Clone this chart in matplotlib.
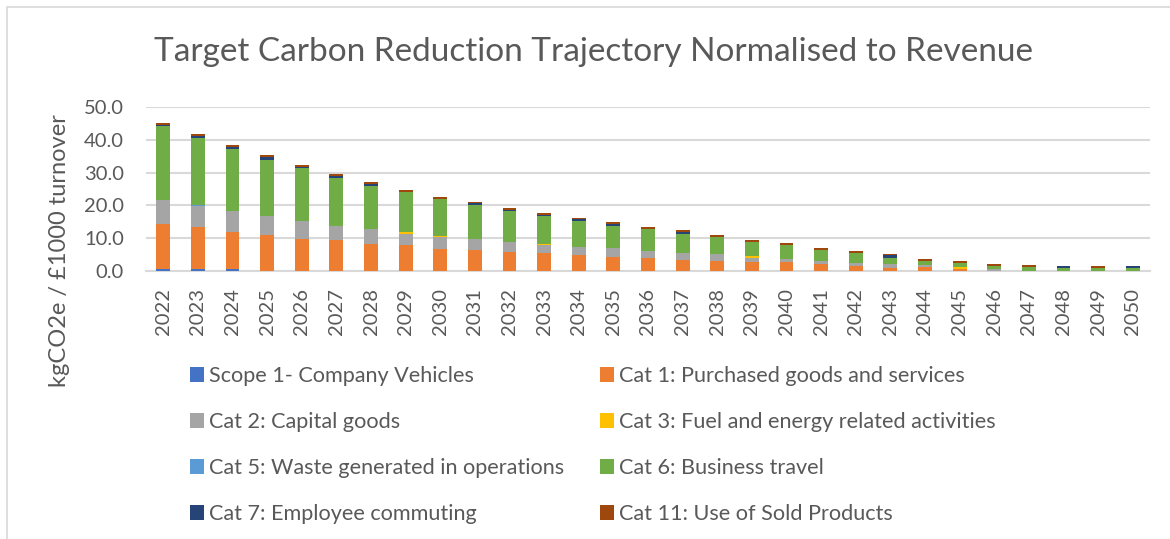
import numpy as np
import matplotlib.pyplot as plt
from matplotlib.patches import Rectangle, Patch

plt.rcParams['font.family'] = ['Lato', 'DejaVu Sans']

# Data (kgCO2e per £1000 turnover)
years = [str(y) for y in range(2022, 2051)]
scope1 = [0.6, 0.5, 0.5, 0, 0, 0, 0, 0, 0, 0, 0, 0, 0, 0, 0, 0, 0, 0, 0, 0, 0, 0, 0, 0, 0, 0, 0, 0, 0]
cat1 = [13.6, 12.8, 11.3, 10.9, 9.8, 9.3, 8.3, 7.8, 6.8, 6.5, 5.9, 5.4, 5.0, 4.4, 3.9, 3.4, 3.0, 2.6, 2.6, 2.0,
        1.6, 1.0, 1.1, 0.6, 0.1, 0, 0, 0, 0]
cat2 = [7.4, 6.5, 6.5, 5.9, 5.4, 4.3, 4.4, 3.6, 3.5, 3.2, 2.9, 2.4, 2.3, 2.5, 2.1, 2.0, 2.1, 1.4, 1.0, 1.0,
        0.9, 1.0, 0.6, 0.1, 0.6, 0.1, 0, 0, 0]
cat3 = [0, 0, 0, 0, 0, 0, 0, 0.5, 0.5, 0, 0, 0.5, 0, 0, 0, 0, 0, 0.5, 0, 0, 0, 0, 0, 0.5, 0, 0, 0, 0, 0]
cat5 = [0.1, 0.3, 0.1, 0, 0, 0, 0, 0, 0, 0, 0, 0, 0, 0, 0, 0, 0, 0, 0, 0, 0, 0, 0, 0, 0, 0, 0.1, 0, 0.1]
cat6 = [22.4, 20.5, 18.9, 17.0, 16.2, 14.7, 13.1, 12.1, 11.1, 10.4, 9.4, 8.4, 7.9, 6.8, 6.7, 5.9, 5.4, 4.2, 4.2, 3.4,
        3.0, 2.0, 1.5, 1.2, 0.9, 1.2, 0.7, 0.8, 0.8]
cat7 = [0.5, 0.7, 0.5, 1.0, 0.4, 0.7, 0.7, 0, 0, 0.5, 0.4, 0.5, 0.6, 0.7, 0, 0.7, 0, 0, 0, 0,
        0, 0.8, 0, 0, 0, 0, 0.6, 0, 0.6]
cat11 = [0.4, 0.4, 0.5, 0.5, 0.5, 0.5, 0.5, 0.6, 0.6, 0.5, 0.5, 0.5, 0.5, 0.5, 0.7, 0.4, 0.5, 0.6, 0.6, 0.6,
         0.6, 0.4, 0.6, 0.5, 0.6, 0.6, 0, 0.6, 0]

series = [
    ('Scope 1- Company Vehicles', scope1, '#4472C4'),
    ('Cat 1: Purchased goods and services', cat1, '#ED7D31'),
    ('Cat 2: Capital goods', cat2, '#A5A5A5'),
    ('Cat 3: Fuel and energy related activities', cat3, '#FFC000'),
    ('Cat 5: Waste generated in operations', cat5, '#5B9BD5'),
    ('Cat 6: Business travel', cat6, '#70AD47'),
    ('Cat 7: Employee commuting', cat7, '#264478'),
    ('Cat 11: Use of Sold Products', cat11, '#9E480E'),
]

text_col = '#595959'
grid_col = '#d9d9d9'

fig = plt.figure(figsize=(11.7, 5.39), dpi=100)
ax = fig.add_axes([146 / 1170, 1 - 271 / 539, 1004 / 1170, 164 / 539])

x = np.arange(len(years))
bottom = np.zeros(len(years))
handles = {}
for name, vals, col in series:
    vals = np.array(vals, dtype=float)
    ax.bar(x, vals, width=0.4, bottom=bottom, color=col, linewidth=0, zorder=3)
    bottom += vals
    handles[name] = Patch(facecolor=col, label=name)

ax.set_xlim(-0.5, len(years) - 0.5)
ax.set_ylim(0, 50)
ax.set_yticks([0, 10, 20, 30, 40, 50])
ax.set_yticklabels(['0.0', '10.0', '20.0', '30.0', '40.0', '50.0'])
ax.set_xticks(x)
ax.set_xticklabels(years, rotation=90)
ax.tick_params(axis='y', length=0, pad=16, labelsize=14.5, labelcolor=text_col)
ax.tick_params(axis='x', length=0, pad=12, labelsize=14.5, labelcolor=text_col)
ax.grid(axis='y', color=grid_col, linewidth=1.5, zorder=0)
for s in ['top', 'right', 'left']:
    ax.spines[s].set_visible(False)
ax.spines['bottom'].set_color(grid_col)
ax.spines['bottom'].set_linewidth(1.5)

fig.text(594 / 1170, 1 - 52 / 539, 'Target Carbon Reduction Trajectory Normalised to Revenue',
         ha='center', va='center', fontsize=24, color=text_col)
fig.text(60 / 1170, 1 - 251 / 539, 'kgCO2e / £1000 turnover', rotation=90,
         ha='center', va='center', fontsize=17, color=text_col)

# legend filled column-wise, so reorder to match the row order in the chart
order = [0, 2, 4, 6, 1, 3, 5, 7]
hs = [handles[series[i][0]] for i in order]
leg = fig.legend(handles=hs, ncol=2, loc='upper left', bbox_to_anchor=(190 / 1170, 1 - 366 / 539),
                 frameon=False, fontsize=15.6, handlelength=0.65, handleheight=0.65,
                 handletextpad=0.23, labelspacing=1.2, columnspacing=1.65, borderpad=0, borderaxespad=0)
for t in leg.get_texts():
    t.set_color(text_col)

fig.patches.append(Rectangle((7 / 1170, -0.1), 1.2, 1.1 - 7 / 539, transform=fig.transFigure,
                             fill=False, edgecolor=grid_col, linewidth=1.2))

fig.savefig('out.png', dpi=100)
